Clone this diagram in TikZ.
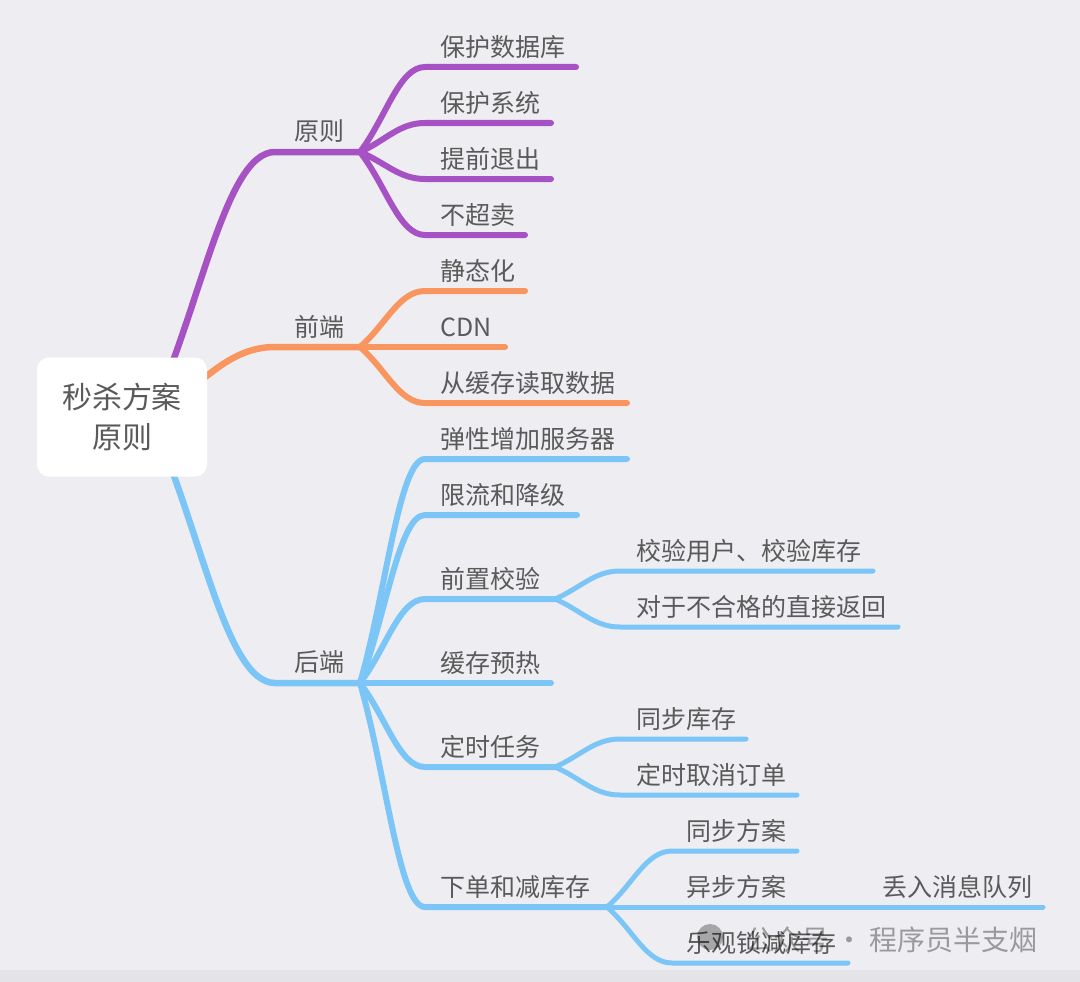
\documentclass[tikz,border=0pt]{standalone}
\usepackage{fontspec}
\setmainfont{Noto Sans CJK SC}
\usetikzlibrary{calc}
\definecolor{bgcol}{HTML}{EEEEF2}
\definecolor{bandcol}{HTML}{E4E4E8}
\definecolor{txtcol}{HTML}{5A5A5A}
\definecolor{purp}{HTML}{A652C4}
\definecolor{oran}{HTML}{F9965F}
\definecolor{blu}{HTML}{7CC6F7}
\tikzset{
  branch/.style={to path={.. controls ($(\tikztostart)!0.4!(\tikztotarget)$)
    and ($(\tikztostart |- \tikztotarget)!0.6!(\tikztotarget)$) .. (\tikztotarget)}},
  lone/.style={line width=6.5pt},
  ltwo/.style={line width=6pt},
  lthree/.style={line width=5pt},
  lbl/.style={anchor=west, inner sep=0pt, text=txtcol, font=\fontsize{25}{29}\selectfont},
  mid/.style={anchor=center, inner sep=0pt, text=txtcol, font=\fontsize{25}{29}\selectfont},
  rootbox/.style={fill=white, rounded corners=12pt, minimum width=170pt, minimum height=119pt,
    align=center, text=txtcol, font=\fontsize{30}{40}\selectfont}
}
\begin{document}
\begin{tikzpicture}[x=1pt,y=-1pt,line cap=round]
  \fill[bgcol] (0,0) rectangle (1080,982);
  \fill[bandcol] (0,970) rectangle (1080,982);
  \useasboundingbox (0,0) rectangle (1080,982);
  % level one
  \coordinate (rs) at (150,417);
  \coordinate (s1) at (275,152);
  \coordinate (f1) at (360,152);
  \coordinate (s2) at (275,347);
  \coordinate (f2) at (360,347);
  \coordinate (s3) at (275,683);
  \coordinate (f3) at (360,683);
  \draw[purp,lone] (rs) to[branch] (s1) -- (f1);
  \draw[oran,lone] (rs) to[branch] (s2) -- (f2);
  \draw[blu,lone] (rs) to[branch] (s3) -- (f3);
  \node[mid] (n1) at (319,131) {原则};
  \node[mid] (n2) at (319,327) {前端};
  \node[mid] (n3) at (319,662) {后端};
  \node[rootbox] (root) at (122,417) {秒杀方案\\原则};
  % principle
  \foreach \i/\y/\e/\t in {1/67/576/保护数据库,2/123/551/保护系统,3/179/551/提前退出,4/235/525/不超卖}{
    \coordinate (a1\i) at (425,\y);
    \coordinate (b1\i) at (\e,\y);
    \draw[purp,ltwo] (f1) to[branch] (a1\i) -- (b1\i);
    \node[lbl] (t1\i) at (440,\y-20) {\t};
  }
  % front end
  \foreach \i/\y/\e/\t in {1/291/525/静态化,2/347/505/CDN,3/403/627/从缓存读取数据}{
    \coordinate (a2\i) at (425,\y);
    \coordinate (b2\i) at (\e,\y);
    \draw[oran,ltwo] (f2) to[branch] (a2\i) -- (b2\i);
    \node[lbl] (t2\i) at (440,\y-20) {\t};
  }
  % back end
  \foreach \i/\y/\e/\t in {1/459/627/弹性增加服务器,2/515/577/限流和降级,3/599/555/前置校验,
      4/683/551/缓存预热,5/767/555/定时任务,6/907/607/下单和减库存}{
    \coordinate (a3\i) at (425,\y);
    \coordinate (b3\i) at (\e,\y);
    \draw[blu,ltwo] (f3) to[branch] (a3\i) -- (b3\i);
    \node[lbl] (t3\i) at (440,\y-20) {\t};
  }
  \foreach \i/\y/\e/\t in {1/571/873/校验用户、校验库存,2/627/898/对于不合格的直接返回}{
    \coordinate (c3\i) at (620,\y);
    \coordinate (d3\i) at (\e,\y);
    \draw[blu,lthree] (b33) to[branch] (c3\i) -- (d3\i);
    \node[lbl] (u3\i) at (636,\y-20) {\t};
  }
  \foreach \i/\y/\e/\t in {1/739/746/同步库存,2/795/797/定时取消订单}{
    \coordinate (c5\i) at (620,\y);
    \coordinate (d5\i) at (\e,\y);
    \draw[blu,lthree] (b35) to[branch] (c5\i) -- (d5\i);
    \node[lbl] (u5\i) at (636,\y-20) {\t};
  }
  \foreach \i/\y/\e/\t in {1/851/797/同步方案,2/907/797/异步方案,3/963/848/乐观锁减库存}{
    \coordinate (c6\i) at (672,\y);
    \coordinate (d6\i) at (\e,\y);
    \draw[blu,lthree] (b36) to[branch] (c6\i) -- (d6\i);
    \node[lbl] (u6\i) at (686,\y-20) {\t};
  }
  \coordinate (g62) at (1043,907);
  \draw[blu,lthree] (d62) -- (g62);
  \node[lbl] (v62) at (882,887) {丢入消息队列};
  % watermark
  \fill[black,opacity=0.3] (710,937) circle (13);
  \node[anchor=west, inner sep=0pt, text=black, opacity=0.35, font=\fontsize{28}{32}\selectfont]
    (wm) at (745,940) {公众号 · 程序员半支烟};
\end{tikzpicture}
\end{document}
